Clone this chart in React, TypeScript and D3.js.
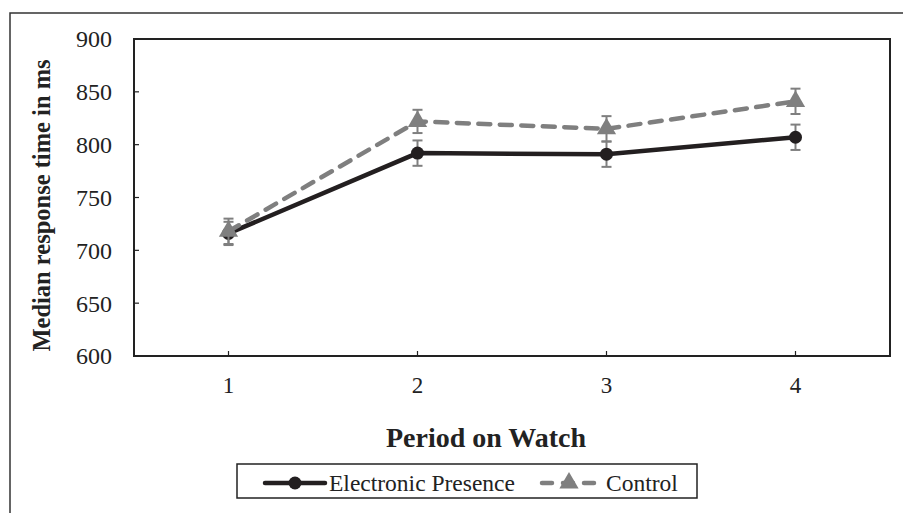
import React, { useEffect, useRef } from 'react'
import * as d3 from 'd3'

// data
const periods = ['1', '2', '3', '4']
const electronic = [716, 792, 791, 807]
const electronicErr = [11, 12, 12, 12]
const control = [718, 822, 815, 841]
const controlErr = [12, 11, 12, 12]
const yTicks = [600, 650, 700, 750, 800, 850, 900]

const W = 903
const H = 513

export default function App() {
  const ref = useRef<SVGSVGElement | null>(null)

  useEffect(() => {
    const svg = d3.select(ref.current)
    svg.selectAll('*').remove()

    const margin = { top: 39, right: 13, bottom: 157, left: 134 }
    const font = '"Liberation Serif", "Times New Roman", serif'
    const black = '#231f20'
    const grey = '#7f7f7f'

    // outer frame (runs off the right/bottom edges)
    svg
      .append('rect')
      .attr('x', 10)
      .attr('y', 13)
      .attr('width', W + 20)
      .attr('height', H + 20)
      .attr('fill', 'white')
      .attr('stroke', '#333')
      .attr('stroke-width', 1.5)

    const x = d3
      .scalePoint()
      .domain(periods)
      .range([margin.left, W - margin.right])
      .padding(0.5)

    const y = d3
      .scaleLinear()
      .domain([600, 900])
      .range([H - margin.bottom, margin.top])

    // plot frame
    svg
      .append('rect')
      .attr('x', margin.left)
      .attr('y', margin.top)
      .attr('width', W - margin.right - margin.left)
      .attr('height', H - margin.bottom - margin.top)
      .attr('fill', 'none')
      .attr('stroke', '#222')
      .attr('stroke-width', 2)

    // y ticks
    const yg = svg.append('g')
    yg.selectAll('line')
      .data(yTicks)
      .enter()
      .append('line')
      .attr('x1', margin.left)
      .attr('x2', margin.left + 5)
      .attr('y1', d => y(d))
      .attr('y2', d => y(d))
      .attr('stroke', '#222')
      .attr('stroke-width', 1.2)
    yg.selectAll('text')
      .data(yTicks)
      .enter()
      .append('text')
      .attr('x', 112)
      .attr('y', d => y(d))
      .attr('dy', '0.35em')
      .attr('text-anchor', 'end')
      .attr('font-family', font)
      .attr('font-size', 24)
      .attr('fill', '#222')
      .text(d => d)

    // x ticks
    const xg = svg.append('g')
    xg.selectAll('line')
      .data(periods)
      .enter()
      .append('line')
      .attr('x1', d => x(d)!)
      .attr('x2', d => x(d)!)
      .attr('y1', y(600))
      .attr('y2', y(600) - 5)
      .attr('stroke', '#222')
      .attr('stroke-width', 1.2)
    xg.selectAll('text')
      .data(periods)
      .enter()
      .append('text')
      .attr('x', d => x(d)!)
      .attr('y', 393)
      .attr('text-anchor', 'middle')
      .attr('font-family', font)
      .attr('font-size', 23)
      .attr('fill', '#222')
      .text(d => d)

    // axis titles
    svg
      .append('text')
      .attr('transform', 'translate(50,' + (margin.top + (H - margin.bottom - margin.top) / 2 + 8) + ') rotate(-90)')
      .attr('text-anchor', 'middle')
      .attr('font-family', font)
      .attr('font-weight', 'bold')
      .attr('font-size', 24.5)
      .attr('fill', '#222')
      .text('Median response time in ms')

    svg
      .append('text')
      .attr('x', 486)
      .attr('y', 447)
      .attr('text-anchor', 'middle')
      .attr('font-family', font)
      .attr('font-weight', 'bold')
      .attr('font-size', 28)
      .attr('fill', '#222')
      .text('Period on Watch')

    const line = d3
      .line<number>()
      .x((d, i) => x(periods[i])!)
      .y(d => y(d))

    const triangle = d3.symbol().type(d3.symbolTriangle).size(160)

    function errorBars(values: number[], errs: number[]) {
      const g = svg.append('g').attr('stroke', grey).attr('stroke-width', 2)
      values.forEach((v, i) => {
        const cx = x(periods[i])!
        g.append('line')
          .attr('x1', cx).attr('x2', cx)
          .attr('y1', y(v - errs[i])).attr('y2', y(v + errs[i]))
        ;[v - errs[i], v + errs[i]].forEach(e => {
          g.append('line')
            .attr('x1', cx - 5).attr('x2', cx + 5)
            .attr('y1', y(e)).attr('y2', y(e))
        })
      })
    }

    // Electronic Presence
    svg
      .append('path')
      .datum(electronic)
      .attr('d', line)
      .attr('fill', 'none')
      .attr('stroke', black)
      .attr('stroke-width', 4.5)
    errorBars(electronic, electronicErr)
    svg
      .append('g')
      .selectAll('circle')
      .data(electronic)
      .enter()
      .append('circle')
      .attr('cx', (d, i) => x(periods[i])!)
      .attr('cy', d => y(d))
      .attr('r', 6.5)
      .attr('fill', black)

    // Control
    svg
      .append('path')
      .datum(control)
      .attr('d', line)
      .attr('fill', 'none')
      .attr('stroke', grey)
      .attr('stroke-width', 4.5)
      .attr('stroke-dasharray', '12 9.5')
      .attr('stroke-linecap', 'round')
    errorBars(control, controlErr)
    svg
      .append('g')
      .selectAll('path')
      .data(control)
      .enter()
      .append('path')
      .attr('d', triangle)
      .attr('transform', (d, i) => 'translate(' + x(periods[i]) + ',' + y(d) + ')')
      .attr('fill', grey)

    // legend
    const lg = svg.append('g')
    lg.append('rect')
      .attr('x', 237)
      .attr('y', 464)
      .attr('width', 460)
      .attr('height', 34)
      .attr('fill', 'white')
      .attr('stroke', '#222')
      .attr('stroke-width', 1.5)
    lg.append('line')
      .attr('x1', 265).attr('x2', 325)
      .attr('y1', 483).attr('y2', 483)
      .attr('stroke', black)
      .attr('stroke-width', 4.5)
      .attr('stroke-linecap', 'round')
    lg.append('circle').attr('cx', 295).attr('cy', 483).attr('r', 6.5).attr('fill', black)
    lg.append('text')
      .attr('x', 329).attr('y', 491)
      .attr('font-family', font)
      .attr('font-size', 23.5)
      .attr('fill', '#222')
      .text('Electronic Presence')
    lg.append('line')
      .attr('x1', 542).attr('x2', 596)
      .attr('y1', 483).attr('y2', 483)
      .attr('stroke', grey)
      .attr('stroke-width', 4.5)
      .attr('stroke-dasharray', '10 11')
      .attr('stroke-linecap', 'round')
    lg.append('path')
      .attr('d', triangle)
      .attr('transform', 'translate(569,483)')
      .attr('fill', grey)
    lg.append('text')
      .attr('x', 606).attr('y', 491)
      .attr('font-family', font)
      .attr('font-size', 23.5)
      .attr('fill', '#222')
      .text('Control')
  }, [])

  return (
    <svg
      ref={ref}
      width={W}
      height={H}
      style={{ position: 'absolute', left: 0, top: 0, display: 'block', background: 'white' }}
    />
  )
}
